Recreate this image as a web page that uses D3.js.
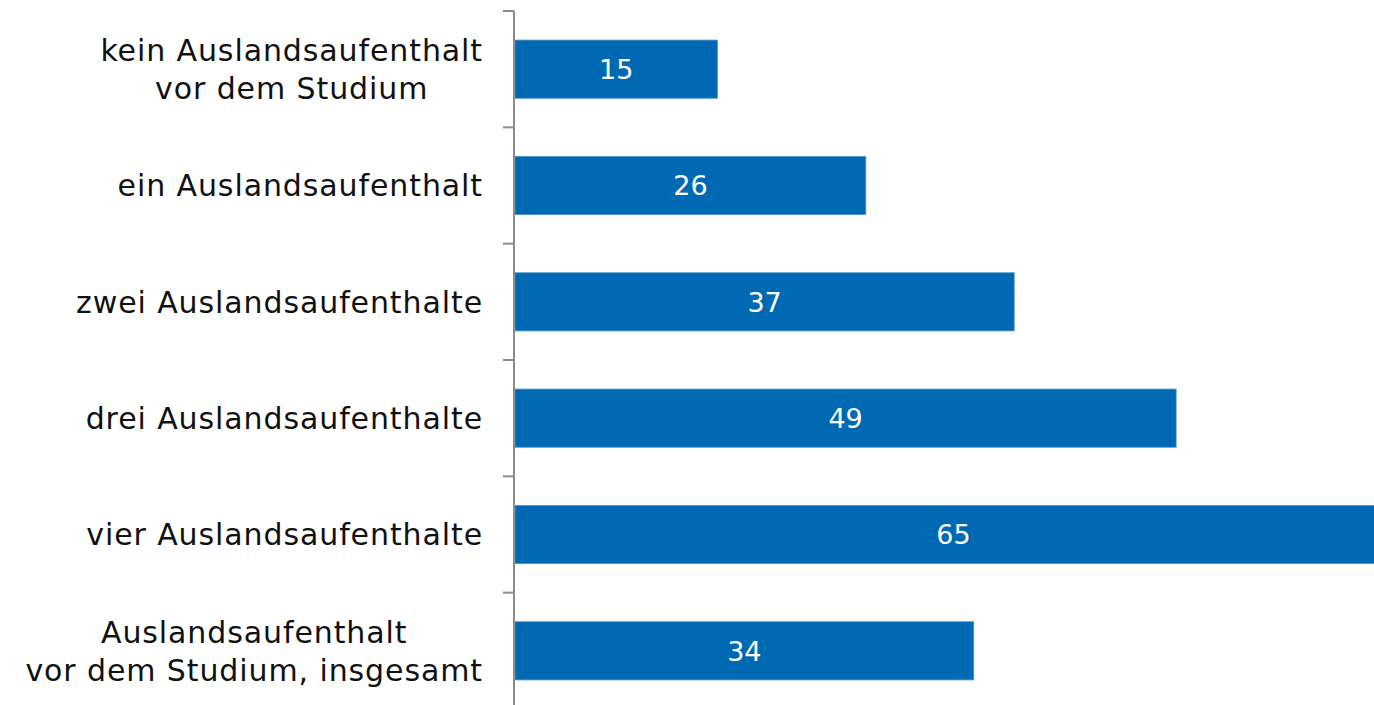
<!DOCTYPE html>
<html><head><meta charset="utf-8">
<script src="https://cdn.jsdelivr.net/npm/d3@7"></script>
<style>html,body{margin:0;padding:0;background:#fff;overflow:hidden}</style>
</head><body>
<svg id="chart" width="1374" height="705"></svg>
<script>
const categories = [
  ["kein Auslandsaufenthalt", "vor dem Studium"],
  ["ein Auslandsaufenthalt"],
  ["zwei Auslandsaufenthalte"],
  ["drei Auslandsaufenthalte"],
  ["vier Auslandsaufenthalte"],
  ["Auslandsaufenthalt", "vor dem Studium, insgesamt"]
];
const values = [15, 26, 37, 49, 65, 34];
const keys = categories.map((c, i) => "c" + i);

const svg = d3.select("#chart");
const font = "'DejaVu Sans', Verdana, sans-serif";
const x = d3.scaleLinear().domain([0, 65]).range([515, 1392]);
const y = d3.scaleBand().domain(keys).range([11, 709]).paddingInner(0.5).paddingOuter(0.25);

svg.append("g").selectAll("rect").data(values).join("rect")
  .attr("x", x(0)).attr("y", (d, i) => y(keys[i]))
  .attr("width", d => x(d) - x(0)).attr("height", y.bandwidth())
  .attr("fill", "#0069b4").attr("stroke", "#4f93c9").attr("stroke-width", 0.8);

svg.append("g").selectAll("text").data(values).join("text")
  .attr("x", d => x(d / 2)).attr("y", (d, i) => y(keys[i]) + y.bandwidth() / 2)
  .attr("dy", "0.36em").attr("text-anchor", "middle")
  .attr("fill", "#fff").style("font-family", font).style("font-size", "27px")
  .text(d => d);

// axis
const ag = svg.append("g").attr("transform", "translate(514,0)");
ag.append("line").attr("x1", 0).attr("x2", 0).attr("y1", 11).attr("y2", 705)
  .attr("stroke", "#8c8c8c").attr("stroke-width", 2);
const tickYs = keys.map(k => y(k) - y.step() * y.paddingInner() / 2);
ag.selectAll("line.tick").data(tickYs).join("line").attr("class", "tick")
  .attr("x1", -11).attr("x2", 0).attr("y1", d => d).attr("y2", d => d)
  .attr("stroke", "#8c8c8c").attr("stroke-width", 2);

const lab = svg.append("g").selectAll("text").data(categories).join("text")
  .attr("text-anchor", "middle").attr("fill", "#111")
  .style("font-family", font).style("font-size", "30px").style("letter-spacing", "0.9px");
lab.each(function(lines, i) {
  const cy = y(keys[i]) + y.bandwidth() / 2;
  const lh = 38;
  const t = d3.select(this);
  lines.forEach((ln, j) => {
    t.append("tspan").attr("y", cy + (j - (lines.length - 1) / 2) * lh).attr("dy", "0.36em").text(ln);
  });
});
lab.each(function() {
  const t = d3.select(this);
  const tsp = t.selectAll("tspan").nodes();
  const widths = tsp.map(n => n.getComputedTextLength());
  const maxW = Math.max(...widths);
  const cx = 483 - maxW / 2;
  t.selectAll("tspan").attr("x", cx);
});
</script>
</body></html>
